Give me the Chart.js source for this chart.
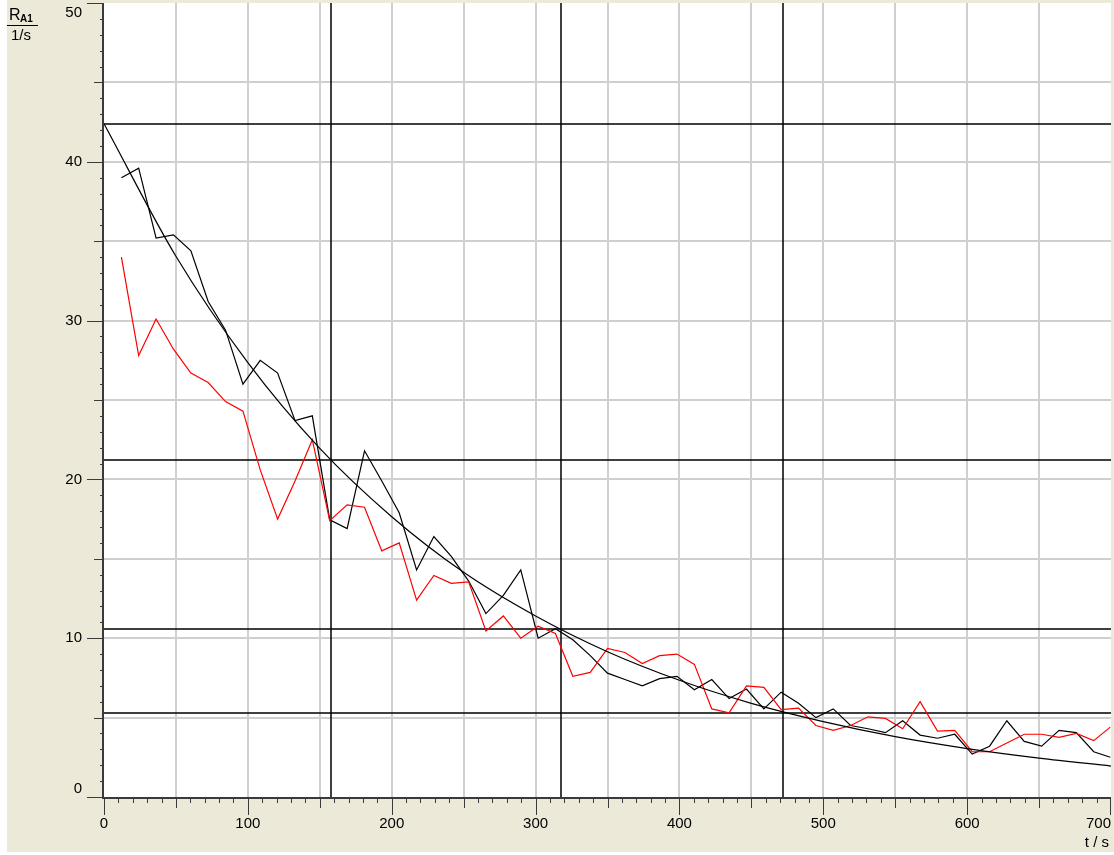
<!DOCTYPE html>
<html>
<head>
<meta charset="utf-8">
<script src="https://cdn.jsdelivr.net/npm/chart.js@4.4.0/dist/chart.umd.min.js"></script>
<style>
    body { margin: 0; background: #fff; }
    canvas { display: block; }
</style>
</head>
<body>
<canvas id="decayCanvas" width="1114" height="855"></canvas>
<script>
// measuring times (s)
const times = [12.1, 24.1, 36.2, 48.3, 60.4, 72.4, 84.5, 96.6, 108.6, 120.7,
    132.8, 144.8, 156.9, 169.0, 181.1, 193.1, 205.2, 217.3, 229.3, 241.4,
    253.5, 265.5, 277.6, 289.7, 301.8, 313.8, 325.9, 338.0, 350.0, 362.1,
    374.2, 386.2, 398.3, 410.4, 422.5, 434.5, 446.6, 458.7, 470.7, 482.8,
    494.9, 506.9, 519.0, 531.1, 543.2, 555.2, 567.3, 579.4, 591.4, 603.5,
    615.6, 627.6, 639.7, 651.8, 663.9, 675.9, 688.0, 699.5];

// count rate R_A1 (1/s), black run
const rateBlack = [39.0, 39.6, 35.2, 35.4, 34.4, 31.2, 29.4, 26.0, 27.5, 26.7,
    23.7, 24.0, 17.45, 16.9, 21.8, 19.9, 17.9, 14.3, 16.4, 15.15,
    13.6, 11.55, 12.7, 14.3, 10.0, 10.6, 9.9, 8.9, 7.8, 7.4,
    7.0, 7.45, 7.6, 6.75, 7.4, 6.2, 6.8, 5.55, 6.6, 5.9,
    5.0, 5.55, 4.5, 4.3, 4.05, 4.8, 3.9, 3.7, 3.95, 2.7,
    3.2, 4.8, 3.5, 3.2, 4.2, 4.05, 2.85, 2.5];

// count rate R_A1 (1/s), red run
const rateRed = [34.0, 27.8, 30.1, 28.2, 26.7, 26.1, 24.9, 24.3, 20.6, 17.5,
    19.9, 22.5, 17.4, 18.4, 18.25, 15.5, 16.0, 12.4, 13.95, 13.45,
    13.55, 10.45, 11.4, 10.0, 10.75, 10.3, 7.6, 7.85, 9.35, 9.1,
    8.4, 8.9, 9.0, 8.35, 5.55, 5.3, 7.0, 6.9, 5.5, 5.6,
    4.5, 4.2, 4.5, 5.05, 4.95, 4.3, 6.0, 4.15, 4.2, 2.85,
    2.85, 3.4, 3.95, 3.95, 3.75, 4.0, 3.55, 4.4];

// fitted decay curve
const fitTimes = [0, 50, 100, 150, 200, 250, 300, 350, 400, 450, 500, 550, 600, 650, 700];
const fitRate = [42.4, 34.05, 27.35, 21.95, 17.65, 14.15, 11.4, 9.15, 7.35, 5.9, 4.75, 3.8, 3.05, 2.45, 1.95];

// half-life marker lines
const halfLifeTimes = [158, 318, 472];
const halfLifeRates = [42.4, 21.2, 10.6, 5.3];

const xTickLabels = ["0", "100", "200", "300", "400", "500", "600", "700"];
const yTickLabels = ["0", "10", "20", "30", "40", "50"];

const toPoints = (xs, ys) => xs.map((t, i) => ({ x: t, y: ys[i] }));

const labelFont = '15px "Liberation Sans", Arial, sans-serif';

const panelPlugin = {
    id: 'panel',
    beforeDraw(chart) {
        const { ctx, chartArea: a } = chart;
        ctx.save();
        ctx.fillStyle = '#ffffff';
        ctx.fillRect(0, 0, chart.width, chart.height);
        ctx.fillStyle = '#ece9d8';
        ctx.fillRect(7, 0, chart.width - 7, 852);
        ctx.fillStyle = '#ffffff';
        ctx.fillRect(a.left, a.top, a.right - a.left, a.bottom - a.top);
        ctx.restore();
    },
    beforeDatasetsDraw(chart) {
        const { ctx, chartArea: a, scales: { x, y } } = chart;
        ctx.save();
        // grey grid
        ctx.strokeStyle = '#cfcfcf';
        ctx.lineWidth = 2;
        ctx.beginPath();
        for (let t = 50; t < 700; t += 50) {
            const px = Math.round(x.getPixelForValue(t));
            ctx.moveTo(px, a.top);
            ctx.lineTo(px, a.bottom);
        }
        for (let v = 5; v < 50; v += 5) {
            const py = Math.round(y.getPixelForValue(v));
            ctx.moveTo(a.left, py);
            ctx.lineTo(a.right, py);
        }
        ctx.stroke();
        // half-life lines
        ctx.strokeStyle = '#000000';
        ctx.lineWidth = 1.5;
        ctx.beginPath();
        halfLifeRates.forEach(v => {
            const py = Math.round(y.getPixelForValue(v));
            ctx.moveTo(a.left, py);
            ctx.lineTo(a.right, py);
        });
        halfLifeTimes.forEach(t => {
            const px = Math.round(x.getPixelForValue(t));
            ctx.moveTo(px, a.top);
            ctx.lineTo(px, a.bottom);
        });
        ctx.stroke();
        ctx.restore();
    },
    afterDatasetsDraw(chart) {
        const { ctx, chartArea: a, scales: { x, y } } = chart;
        ctx.save();
        ctx.strokeStyle = '#3a3a3a';
        ctx.lineWidth = 2;
        ctx.beginPath();
        ctx.moveTo(a.left - 1, a.top);
        ctx.lineTo(a.left - 1, a.bottom + 1);
        ctx.lineTo(a.right, a.bottom + 1);
        ctx.stroke();

        // ticks
        ctx.lineWidth = 1;
        ctx.beginPath();
        for (let v = 0; v <= 50; v++) {
            const len = v % 10 === 0 ? 16 : (v % 5 === 0 ? 9 : 3);
            const py = Math.round(y.getPixelForValue(v)) + 0.5;
            ctx.moveTo(a.left - 1, py);
            ctx.lineTo(a.left - 1 - len, py);
        }
        for (let t = 0; t <= 700; t += 10) {
            const len = t % 100 === 0 ? 17 : (t % 50 === 0 ? 10 : 5);
            let px = Math.round(x.getPixelForValue(t)) + 0.5;
            if (t === 700) px -= 1;
            ctx.moveTo(px, a.bottom + 1);
            ctx.lineTo(px, a.bottom + 1 + len);
        }
        ctx.stroke();

        // tick labels
        ctx.fillStyle = '#000000';
        ctx.font = labelFont;
        ctx.textBaseline = 'middle';
        xTickLabels.forEach((lbl, i) => {
            const px = x.getPixelForValue(Number(lbl));
            ctx.textAlign = i === xTickLabels.length - 1 ? 'right' : 'center';
            ctx.fillText(lbl, px, 824);
        });
        ctx.textAlign = 'right';
        yTickLabels.forEach(lbl => {
            const py = Math.min(Math.max(y.getPixelForValue(Number(lbl)), 13), 789);
            ctx.fillText(lbl, 82, py);
        });

        // axis titles
        ctx.textAlign = 'left';
        ctx.textBaseline = 'alphabetic';
        ctx.font = '16px "Liberation Sans", Arial, sans-serif';
        ctx.fillText('R', 9, 20);
        ctx.font = 'bold 10px "Liberation Sans", Arial, sans-serif';
        ctx.fillText('A1', 20, 22);
        ctx.strokeStyle = '#000000';
        ctx.beginPath();
        ctx.moveTo(7, 25.5);
        ctx.lineTo(38, 25.5);
        ctx.stroke();
        ctx.font = labelFont;
        ctx.textBaseline = 'middle';
        ctx.fillText('1/s', 11, 36);
        ctx.textAlign = 'right';
        ctx.fillText('t / s', 1109, 843);
        ctx.restore();
    }
};

const decayCanvas = document.getElementById('decayCanvas');
const decayChart = new Chart(decayCanvas, {
    type: 'line',
    data: {
        datasets: [{
            label: 'fit',
            data: toPoints(fitTimes, fitRate),
            borderColor: '#000000',
            borderWidth: 1.2,
            pointRadius: 0,
            cubicInterpolationMode: 'monotone'
        }, {
            label: 'red',
            data: toPoints(times, rateRed),
            borderColor: '#ff0000',
            borderWidth: 1.2,
            pointRadius: 0,
            tension: 0
        }, {
            label: 'black',
            data: toPoints(times, rateBlack),
            borderColor: '#000000',
            borderWidth: 1.2,
            pointRadius: 0,
            tension: 0
        }]
    },
    options: {
        responsive: false,
        animation: false,
        layout: { padding: { left: 104, top: 3, right: 3, bottom: 58 } },
        plugins: { legend: { display: false }, tooltip: { enabled: false } },
        scales: {
            x: { type: 'linear', min: 0, max: 700, display: false },
            y: { type: 'linear', min: 0, max: 50, display: false }
        }
    },
    plugins: [panelPlugin]
});
</script>
</body>
</html>
